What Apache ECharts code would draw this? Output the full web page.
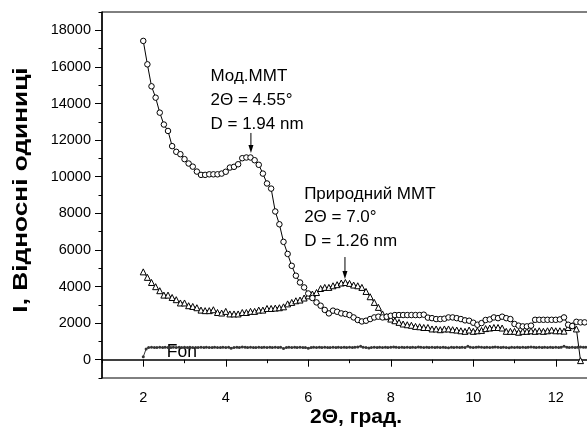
<!DOCTYPE html>
<html>
<head>
<meta charset="utf-8">
<script src="https://cdn.jsdelivr.net/npm/echarts@6/dist/echarts.min.js"></script>
<style>
  html, body { margin: 0; padding: 0; background: #fff; }
  #chart { width: 587px; height: 430px; }
</style>
</head>
<body>
<div id="chart"></div>
<script>
// 2Θ positions (deg) shared by the two ММТ curves
const twoTheta = [
  2.0, 2.1, 2.2, 2.3, 2.4, 2.5, 2.6, 2.7, 2.8, 2.9,
  3.0, 3.1, 3.2, 3.3, 3.4, 3.5, 3.6, 3.7, 3.8, 3.9,
  4.0, 4.1, 4.2, 4.3, 4.4, 4.5, 4.6, 4.7, 4.8, 4.9,
  5.0, 5.1, 5.2, 5.3, 5.4, 5.5, 5.6, 5.7, 5.8, 5.9,
  6.0, 6.1, 6.2, 6.3, 6.4, 6.5, 6.6, 6.7, 6.8, 6.9,
  7.0, 7.1, 7.2, 7.3, 7.4, 7.5, 7.6, 7.7, 7.8, 7.9,
  8.0, 8.1, 8.2, 8.3, 8.4, 8.5, 8.6, 8.7, 8.8, 8.9,
  9.0, 9.1, 9.2, 9.3, 9.4, 9.5, 9.6, 9.7, 9.8, 9.9,
  10.0, 10.1, 10.2, 10.3, 10.4, 10.5, 10.6, 10.7, 10.8, 10.9,
  11.0, 11.1, 11.2, 11.3, 11.4, 11.5, 11.6, 11.7, 11.8, 11.9,
  12.0, 12.1, 12.2, 12.3, 12.4, 12.5, 12.6, 12.7
];

// Мод.ММТ (circles)
const modMMT = [
  17420, 16140, 14940, 14320, 13500, 12850, 12500, 11670, 11360, 11230,
  10960, 10720, 10550, 10280, 10100, 10100, 10130, 10130, 10130, 10170,
  10270, 10500, 10540, 10680, 11010, 11050, 11050, 10900, 10650, 10170,
  9630, 9350, 8100, 7400, 6440, 5780, 5130, 4590, 4220, 3950,
  3620, 3370, 3130, 2950, 2720, 2530, 2680, 2620, 2530, 2500,
  2440, 2310, 2170, 2090, 2130, 2220, 2310, 2350, 2310, 2350,
  2400, 2440, 2440, 2440, 2440, 2440, 2440, 2440, 2460, 2300,
  2270, 2220, 2220, 2240, 2310, 2310, 2270, 2220, 2150, 2130,
  2020, 1910, 2000, 2170, 2200, 2310, 2270, 2350, 2270, 2220,
  1950, 1860, 1820, 1820, 1860, 2180, 2180, 2180, 2180, 2180,
  2180, 2200, 2310, 1910, 1840, 2070, 2040, 2040
];

// Природний ММТ (triangles), ends at 12.6
const natMMT = [
  4800, 4500, 4220, 3990, 3770, 3530, 3530, 3400, 3280, 3100,
  3100, 2950, 2910, 2840, 2710, 2680, 2680, 2730, 2580, 2550,
  2640, 2500, 2500, 2500, 2580, 2580, 2640, 2640, 2710, 2710,
  2800, 2800, 2820, 2840, 2890, 3050, 3130, 3220, 3260, 3370,
  3490, 3590, 3670, 3890, 3950, 3950, 4040, 4100, 4190, 4220,
  4170, 4080, 4040, 3950, 3730, 3440, 3130, 2860, 2500, 2350,
  2220, 2130, 2040, 1950, 1910, 1880, 1820, 1800, 1760, 1760,
  1680, 1680, 1640, 1680, 1680, 1640, 1620, 1580, 1550, 1620,
  1550, 1580, 1600, 1700, 1730, 1760, 1760, 1730, 1550, 1550,
  1550, 1500, 1550, 1550, 1580, 1550, 1580, 1550, 1580, 1620,
  1580, 1580, 1560, 1760, 1860, 1680, -50
];

// Fon (background), denser sampling
const fonTheta = [
  2.00, 2.07, 2.13, 2.20, 2.27, 2.33, 2.40, 2.47, 2.53, 2.60, 2.67, 2.73, 2.80, 2.87, 2.93,
  3.00, 3.07, 3.13, 3.20, 3.27, 3.33, 3.40, 3.47, 3.53, 3.60, 3.67, 3.73, 3.80, 3.87, 3.93,
  4.00, 4.07, 4.13, 4.20, 4.27, 4.33, 4.40, 4.47, 4.53, 4.60, 4.67, 4.73, 4.80, 4.87, 4.93,
  5.00, 5.07, 5.13, 5.20, 5.27, 5.33, 5.40, 5.47, 5.53, 5.60, 5.67, 5.73, 5.80, 5.87, 5.93,
  6.00, 6.07, 6.13, 6.20, 6.27, 6.33, 6.40, 6.47, 6.53, 6.60, 6.67, 6.73, 6.80, 6.87, 6.93,
  7.00, 7.07, 7.13, 7.20, 7.27, 7.33, 7.40, 7.47, 7.53, 7.60, 7.67, 7.73, 7.80, 7.87, 7.93,
  8.00, 8.07, 8.13, 8.20, 8.27, 8.33, 8.40, 8.47, 8.53, 8.60, 8.67, 8.73, 8.80, 8.87, 8.93,
  9.00, 9.07, 9.13, 9.20, 9.27, 9.33, 9.40, 9.47, 9.53, 9.60, 9.67, 9.73, 9.80, 9.87, 9.93,
  10.00, 10.07, 10.13, 10.20, 10.27, 10.33, 10.40, 10.47, 10.53, 10.60, 10.67, 10.73, 10.80, 10.87, 10.93,
  11.00, 11.07, 11.13, 11.20, 11.27, 11.33, 11.40, 11.47, 11.53, 11.60, 11.67, 11.73, 11.80, 11.87, 11.93,
  12.00, 12.07, 12.13, 12.20, 12.27, 12.33, 12.40, 12.47, 12.53, 12.60, 12.67, 12.73
];
const fon = [
  160, 590, 670, 680, 670, 670, 680, 670, 680, 670, 660, 680, 670, 680, 670,
  680, 670, 680, 670, 660, 670, 680, 670, 680, 670, 670, 680, 670, 660, 680,
  670, 680, 620, 670, 680, 670, 700, 680, 670, 680, 670, 660, 680, 670, 680,
  670, 680, 670, 680, 670, 680, 610, 670, 680, 670, 680, 670, 680, 670, 670,
  620, 670, 680, 670, 680, 670, 680, 670, 660, 680, 670, 680, 670, 680, 670,
  680, 670, 680, 700, 730, 680, 670, 640, 670, 680, 670, 680, 670, 680, 670,
  680, 690, 680, 670, 680, 670, 680, 670, 680, 670, 690, 680, 670, 680, 670,
  680, 670, 680, 670, 680, 670, 650, 680, 670, 680, 670, 680, 670, 740, 680,
  670, 680, 690, 680, 670, 680, 670, 680, 700, 680, 670, 680, 670, 650, 680,
  670, 680, 670, 680, 670, 680, 690, 680, 670, 680, 670, 680, 670, 680, 670,
  680, 670, 680, 740, 680, 670, 680, 670, 680, 690, 680, 680
];

// annotations, anchored in data units
const modLabel = ['Мод.ММТ', '2Θ = 4.55°', 'D = 1.94 nm'];
const natLabel = ['Природний ММТ', '2Θ = 7.0°', 'D = 1.26 nm'];
const modArrow = [[4.61, 12390], [4.61, 11290]];
const natArrow = [[6.89, 5610], [6.89, 4410]];

const FONT = "'Liberation Sans', Arial, sans-serif";

const chart = echarts.init(document.getElementById('chart'));

const pairs = (xs, ys) => ys.map((v, i) => [xs[i], v]);

const tickStyle = { color: '#000', width: 1 };

chart.setOption({
  animation: false,
  backgroundColor: '#fff',
  grid: {
    left: 102, top: 12, right: -10, bottom: 52,
    outerBoundsMode: 'none', containLabel: false,
    show: true, borderColor: '#000', borderWidth: 1, backgroundColor: 'transparent'
  },
  xAxis: [
    {
      // odd values: short ticks; minor ticks fall on the even values
      type: 'value', min: 1, max: 13, interval: 2, position: 'bottom',
      axisLine: { lineStyle: { color: '#000', width: 1.5 } },
      axisTick: { length: 3.5, lineStyle: tickStyle },
      minorTick: { show: true, splitNumber: 2, length: 7, lineStyle: tickStyle },
      axisLabel: { show: false },
      splitLine: { show: false }
    },
    {
      type: 'value', min: 1, max: 13, interval: 1, position: 'bottom',
      axisLine: { show: false }, axisTick: { show: false }, splitLine: { show: false },
      axisLabel: {
        margin: 12, color: '#000', fontFamily: FONT, fontSize: 14.5,
        formatter: v => (v % 2 === 0 ? String(v) : '')
      }
    }
  ],
  yAxis: [
    {
      type: 'value', min: -1000, max: 19000, interval: 2000, position: 'left',
      axisLine: { show: true, lineStyle: { color: '#000', width: 1.5 } },
      axisTick: { show: true, length: 3.5, lineStyle: tickStyle },
      minorTick: { show: true, splitNumber: 2, length: 7, lineStyle: tickStyle },
      axisLabel: { show: false },
      splitLine: { show: false }
    },
    {
      type: 'value', min: -1000, max: 19000, interval: 1000, position: 'left',
      axisLine: { show: false }, axisTick: { show: false }, splitLine: { show: false },
      axisLabel: {
        margin: 11, color: '#000', fontFamily: FONT, fontSize: 14.5,
        formatter: v => (v % 2000 === 0 ? String(v) : '')
      }
    }
  ],
  series: [
    {
      name: 'Fon', type: 'line', data: pairs(fonTheta, fon),
      symbol: 'circle', symbolSize: 3, showAllSymbol: true,
      itemStyle: { color: '#363636' },
      lineStyle: { color: '#363636', width: 1 }
    },
    {
      name: 'Природний ММТ', type: 'line', data: pairs(twoTheta, natMMT),
      symbol: 'triangle', symbolSize: 6, showAllSymbol: true,
      itemStyle: { color: '#fff', borderColor: '#000', borderWidth: 1 },
      lineStyle: { color: '#000', width: 1 }
    },
    {
      name: 'Мод.ММТ', type: 'line', data: pairs(twoTheta, modMMT),
      symbol: 'circle', symbolSize: 5.5, showAllSymbol: true,
      itemStyle: { color: '#fff', borderColor: '#000', borderWidth: 1 },
      lineStyle: { color: '#000', width: 1 }
    }
  ]
});

// overlay: axis titles, text annotations and arrows, placed via the axis scales
const toPx = p => chart.convertToPixel({ xAxisIndex: 0, yAxisIndex: 0 }, p);
const graphics = [];

function textBlock(lines, anchor, fontSize, step) {
  const p = toPx(anchor);
  lines.forEach((t, i) => {
    graphics.push({
      type: 'text', silent: true,
      x: p[0], y: p[1] + i * step - 0.33 * fontSize,
      style: { text: t, font: fontSize + 'px ' + FONT, fill: '#000', textAlign: 'left', textVerticalAlign: 'middle' }
    });
  });
}

function arrow(seg) {
  const a = toPx(seg[0]), b = toPx(seg[1]);
  graphics.push({
    type: 'line', silent: true,
    shape: { x1: a[0], y1: a[1], x2: b[0], y2: b[1] - 6 },
    style: { stroke: '#000', lineWidth: 1 }
  });
  graphics.push({
    type: 'polygon', silent: true,
    shape: { points: [[b[0] - 2.5, b[1] - 8], [b[0] + 2.5, b[1] - 8], [b[0], b[1]]] },
    style: { fill: '#000' }
  });
}

textBlock(modLabel, [3.63, 15190], 17, 24);
textBlock(natLabel, [5.9, 8730], 17, 23.3);
textBlock(['Fon'], [2.57, 76], 17.5, 0);
arrow(modArrow);
arrow(natArrow);

graphics.push({
  type: 'text', silent: true, x: 356, y: 417,
  style: { text: '2Θ, град.', font: 'bold 21px ' + FONT, fill: '#000', textAlign: 'center', textVerticalAlign: 'middle' }
});
graphics.push({
  type: 'text', silent: true, x: 21, y: 190, rotation: Math.PI / 2, scaleX: 1.25,
  style: { text: 'I, Відносні одиниці', font: 'bold 21px ' + FONT, fill: '#000', textAlign: 'center', textVerticalAlign: 'middle' }
});

chart.setOption({ graphic: graphics });
</script>
</body>
</html>
